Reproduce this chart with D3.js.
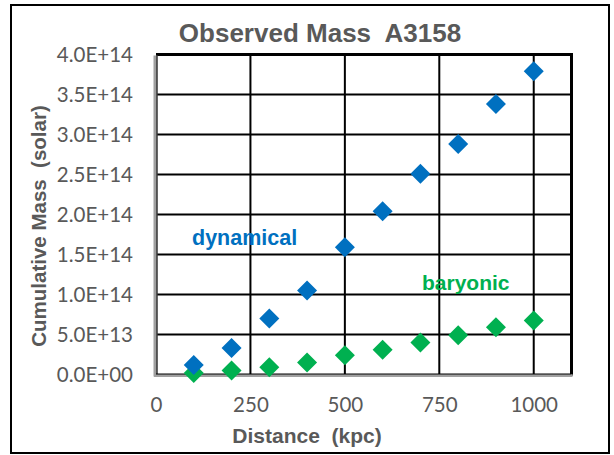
<!DOCTYPE html>
<html><head><meta charset="utf-8">
<script src="https://cdn.jsdelivr.net/npm/d3@7/dist/d3.min.js"></script>
<style>body{margin:0;background:#fff}svg{display:block}</style>
</head><body><svg id="c" width="614" height="455"></svg>
<script>
const distances = [100,200,300,400,500,600,700,800,900,1000];
const dynamical = [1.2e13,3.3e13,7.0e13,1.05e14,1.59e14,2.04e14,2.51e14,2.88e14,3.38e14,3.79e14];
const baryonic = [2e12,5e12,9e12,1.5e13,2.4e13,3.1e13,4.0e13,4.9e13,5.9e13,6.75e13];
const xTicks = [0,250,500,750,1000];
const yTicks = [0,5e13,1e14,1.5e14,2e14,2.5e14,3e14,3.5e14,4e14];
const yTickLabels = ["0.0E+00","5.0E+13","1.0E+14","1.5E+14","2.0E+14","2.5E+14","3.0E+14","3.5E+14","4.0E+14"];

const svg = d3.select("#c");
const L=156, R=571.5, T=54.5, B=374.5;
const x = d3.scaleLinear().domain([0,1100]).range([L,R]);
const y = d3.scaleLinear().domain([0,4e14]).range([B,T]);
const grey="#595959";
const arial="Liberation Sans, Arial, sans-serif";

// outer border
svg.append("rect").attr("x",11).attr("y",5).attr("width",598).attr("height",448)
  .attr("fill","none").attr("stroke","#000").attr("stroke-width",2);

// title
svg.append("text").attr("x",320).attr("y",42).attr("text-anchor","middle")
  .attr("font-family",arial).attr("font-weight","bold")
  .attr("font-size",26).attr("fill",grey).attr("xml:space","preserve").text("Observed Mass  A3158");

// gridlines
const g = svg.append("g");
g.selectAll("line.h").data(yTicks.filter(d=>d>0 && d<4e14)).join("line")
  .attr("x1",L).attr("x2",R).attr("y1",d=>y(d)).attr("y2",d=>y(d))
  .attr("stroke","#000").attr("stroke-width",2);
g.selectAll("line.v").data(xTicks.filter(d=>d>0)).join("line")
  .attr("y1",T).attr("y2",B).attr("x1",d=>x(d)).attr("x2",d=>x(d))
  .attr("stroke","#000").attr("stroke-width",2);

// plot frame
svg.append("line").attr("x1",L).attr("x2",R+1.5).attr("y1",T).attr("y2",T).attr("stroke","#000").attr("stroke-width",3);
svg.append("line").attr("x1",R).attr("x2",R).attr("y1",T).attr("y2",B+1).attr("stroke","#000").attr("stroke-width",3);
svg.append("line").attr("x1",L-0.5).attr("x2",L-0.5).attr("y1",T+1).attr("y2",B+2).attr("stroke","#a0a0a0").attr("stroke-width",4);
svg.append("line").attr("x1",L+1).attr("x2",L+1).attr("y1",T+1).attr("y2",B).attr("stroke","#000").attr("stroke-width",1);
svg.append("line").attr("x1",L-2).attr("x2",R+1).attr("y1",B+1).attr("y2",B+1).attr("stroke","#a0a0a0").attr("stroke-width",3);
svg.append("line").attr("x1",L).attr("x2",R).attr("y1",B-0.5).attr("y2",B-0.5).attr("stroke","#000").attr("stroke-width",1);

// axes
const yAxis = d3.axisLeft(y).tickValues(yTicks).tickFormat((d,i)=>yTickLabels[i]).tickSize(0).tickPadding(23);
const ya = svg.append("g").attr("transform",`translate(${L},0)`).call(yAxis);
ya.select(".domain").remove();
ya.selectAll("text").attr("font-family","Lato, sans-serif").attr("font-size",20.5).attr("fill",grey).attr("dy","0.35em");

const xAxis = d3.axisBottom(x).tickValues(xTicks).tickFormat(d3.format("d")).tickSize(0).tickPadding(23);
const xa = svg.append("g").attr("transform",`translate(0,${B})`).call(xAxis);
xa.select(".domain").remove();
xa.selectAll("text").attr("font-family","Lato, sans-serif").attr("font-size",20.5).attr("fill",grey);

// axis titles
svg.append("text").attr("x",307).attr("y",443).attr("text-anchor","middle")
  .attr("font-family",arial).attr("font-weight","bold")
  .attr("font-size",21).attr("fill",grey).attr("xml:space","preserve").text("Distance  (kpc)");
svg.append("text").attr("transform","translate(46,226) rotate(-90)").attr("text-anchor","middle")
  .attr("font-family",arial).attr("font-weight","bold")
  .attr("font-size",20.5).attr("fill",grey).attr("xml:space","preserve").text("Cumulative Mass  (solar)");

// markers
const diamond = d3.symbol().type(d3.symbolSquare).size(200);
function series(vals,color){
  svg.append("g").selectAll("path").data(distances.map((d,i)=>[d,vals[i]])).join("path")
    .attr("d",diamond).attr("fill",color)
    .attr("transform",d=>`translate(${x(d[0])},${y(d[1])}) rotate(45)`);
}
series(baryonic,"#00B050");
series(dynamical,"#0070C0");

// labels
svg.append("text").attr("x",192).attr("y",245)
  .attr("font-family",arial).attr("font-weight","bold")
  .attr("font-size",21.5).attr("fill","#0070C0").text("dynamical");
svg.append("text").attr("x",422).attr("y",290)
  .attr("font-family",arial).attr("font-weight","bold")
  .attr("font-size",21).attr("fill","#00B050").text("baryonic");
</script></body></html>
